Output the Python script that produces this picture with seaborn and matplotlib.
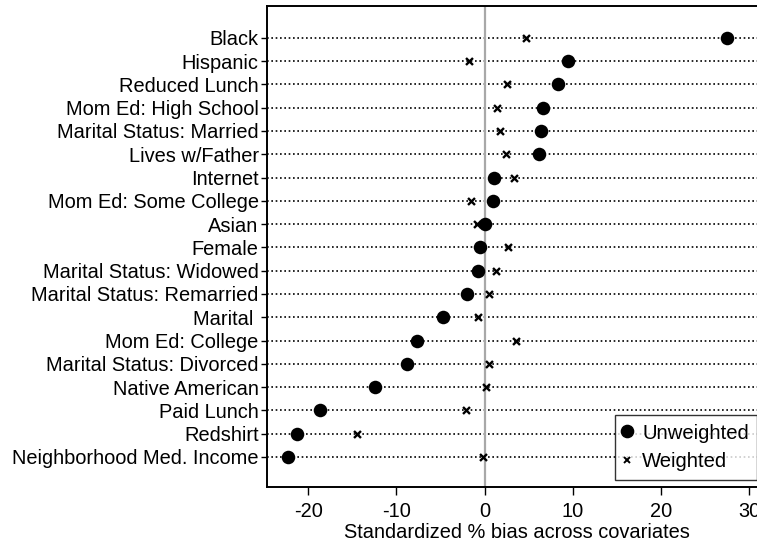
import matplotlib
matplotlib.use("Agg")
import matplotlib.pyplot as plt
import seaborn as sns
import pandas as pd
import numpy as np
from matplotlib.lines import Line2D

categories = ["Black", "Hispanic", "Reduced Lunch", "Mom Ed: High School",
              "Marital Status: Married", "Lives w/Father", "Internet",
              "Mom Ed: Some College", "Asian", "Female", "Marital Status: Widowed",
              "Marital Status: Remarried", "Marital ", "Mom Ed: College",
              "Marital Status: Divorced", "Native American", "Paid Lunch",
              "Redshirt", "Neighborhood Med. Income"]
unweighted = [27.5, 9.4, 8.3, 6.6, 6.4, 6.2, 1.1, 1.0, 0.0, -0.5, -0.7,
              -2.0, -4.7, -7.7, -8.8, -12.4, -18.6, -21.3, -22.3]
weighted = [4.7, -1.8, 2.5, 1.4, 1.8, 2.4, 3.3, -1.5, -0.9, 2.6, 1.3,
            0.45, -0.8, 3.6, 0.5, 0.2, -2.1, -14.5, -0.2]
xticks = [-20, -10, 0, 10, 20, 30]

sns.set_style("white")
plt.rcParams['font.family'] = ['Liberation Sans', 'DejaVu Sans']
plt.rcParams['text.color'] = 'black'
plt.rcParams['axes.labelcolor'] = 'black'
plt.rcParams['xtick.color'] = 'black'
plt.rcParams['ytick.color'] = 'black'

pos = np.arange(len(categories))
df = pd.DataFrame({
    "cat": categories * 2,
    "pos": np.concatenate([pos, pos]),
    "val": unweighted + weighted,
    "type": ["Unweighted"] * len(categories) + ["Weighted"] * len(categories),
})

fig = plt.figure(figsize=(7.57, 5.42), dpi=100)
ax = fig.add_axes([0.3527, 0.1015, 1.012 - 0.3527, 0.989 - 0.1015])

for p in pos:
    ax.axhline(p, color="black", linestyle=(0, (1, 1.6)), linewidth=1.2, zorder=1)
ax.axvline(0, color="#a8a8a8", linewidth=1.6, zorder=2)

d_u = df[df["type"] == "Unweighted"]
d_w = df[df["type"] == "Weighted"]
sns.scatterplot(data=d_u, x="val", y="pos", marker="o", s=95, color="black",
                edgecolor="black", linewidth=0, ax=ax, zorder=3, legend=False)
sns.scatterplot(data=d_w, x="val", y="pos", marker="x", s=25, color="black",
                linewidth=1.7, ax=ax, zorder=3, legend=False)

ax.set_xlim(-24.66, 31.9)
ax.set_ylim(len(categories) - 1 + 1.29, -1.37)
ax.set_yticks(pos)
ax.set_yticklabels(categories, fontsize=14.4)
ax.set_xticks(xticks)
ax.set_xticklabels([str(t) for t in xticks], fontsize=14.4)
ax.set_xlabel("Standardized % bias across covariates", fontsize=14.4, labelpad=1.5)
ax.set_ylabel("")
ax.tick_params(axis="y", direction="out", length=4, width=1, color="black",
               left=True, pad=2)
ax.tick_params(axis="x", direction="out", length=5.5, width=1, color="black",
               bottom=True, pad=5)
for s in ["left", "bottom", "top"]:
    ax.spines[s].set_color("black")
    ax.spines[s].set_linewidth(1.4)
ax.spines["right"].set_visible(False)

handles = [Line2D([], [], marker="o", linestyle="none", color="black", markersize=8.8),
           Line2D([], [], marker="x", linestyle="none", color="black", markersize=4.5,
                  markeredgewidth=1.4)]
leg = ax.legend(handles, ["Unweighted", "Weighted"], loc="lower left",
                bbox_to_anchor=(0.697, 0.0146), fontsize=14.6, frameon=True,
                fancybox=False, edgecolor="black", handlelength=0.35,
                handletextpad=0.57, borderpad=0.42, labelspacing=0.49,
                borderaxespad=0)
leg.get_frame().set_linewidth(1.0)

fig.savefig("out.png", dpi=100)
